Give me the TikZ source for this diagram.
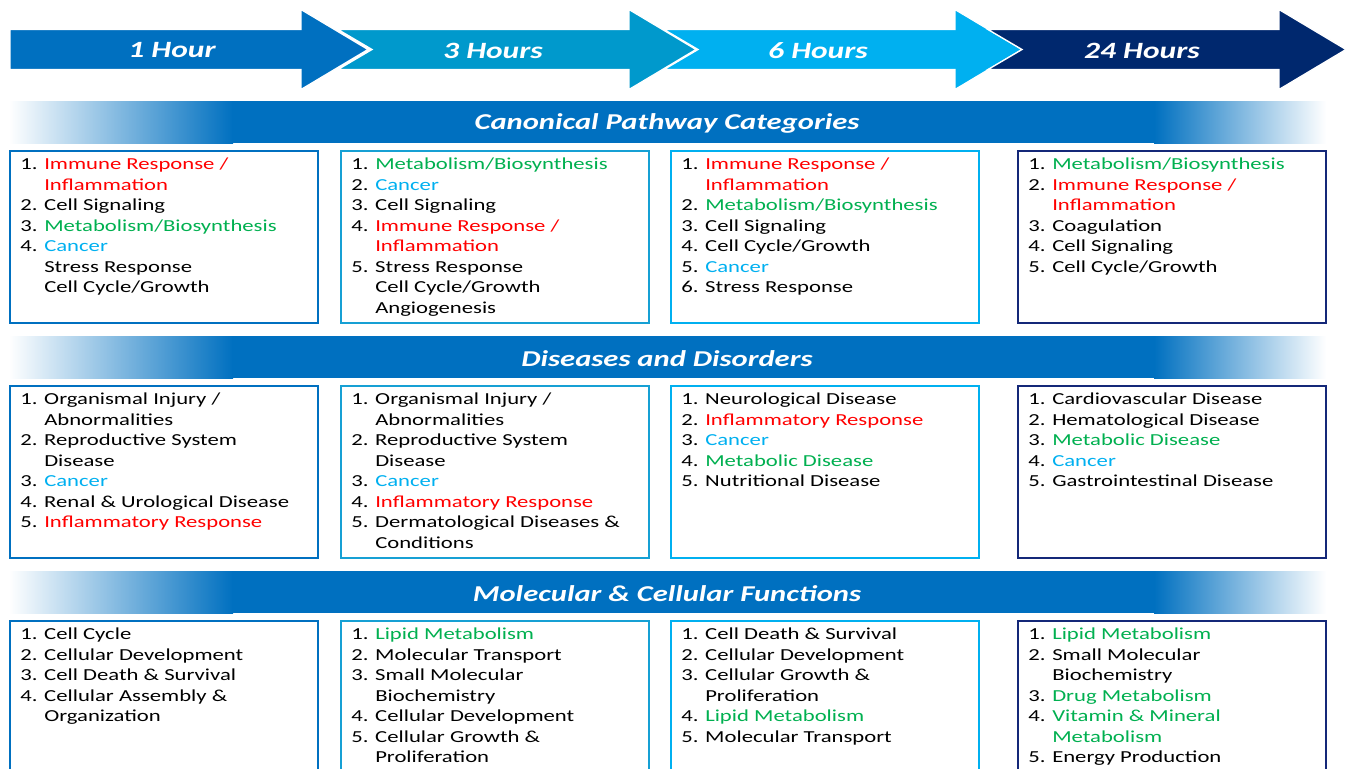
\documentclass[tikz,border=0pt]{standalone}
\usepackage{fontspec}
\setmainfont{Carlito}[FakeStretch=1.35]

\definecolor{hourone}{RGB}{0,112,192}
\definecolor{hourtwo}{RGB}{0,153,204}
\definecolor{hourthree}{RGB}{0,176,240}
\definecolor{hourfour}{RGB}{0,40,110}
\definecolor{bandblue}{RGB}{0,112,192}
\definecolor{boxtwo}{RGB}{22,160,212}
\definecolor{boxfour}{RGB}{20,40,120}
\definecolor{itemred}{RGB}{255,0,0}
\definecolor{itemgreen}{RGB}{0,176,80}
\definecolor{itemcyan}{RGB}{0,176,240}

\newcommand{\redtxt}[1]{\textcolor{itemred}{#1}}
\newcommand{\grntxt}[1]{\textcolor{itemgreen}{#1}}
\newcommand{\cyntxt}[1]{\textcolor{itemcyan}{#1}}
\newcommand{\itm}[2]{\strut\makebox[18pt][l]{#1.}#2}
\newcommand{\itmcont}[1]{\strut\hspace*{18pt}#1}

\begin{document}
\begin{tikzpicture}[x=0.75pt, y=-0.75pt,
  hourlabel/.style={text=white, font=\fontsize{17.5}{20}\selectfont\bfseries\itshape},
  bandtitle/.style={text=white, font=\fontsize{17}{20}\selectfont\bfseries\itshape},
  listbox/.style={draw, line width=1.5pt, anchor=north west, minimum width=231pt,
    minimum height=129pt, inner sep=0pt},
  listtxt/.style={anchor=north west, align=left, inner sep=0pt,
    font=\fontsize{12.6}{15.4}\selectfont}]
  \clip (0,0) rectangle (1350,768);
  \fill[white] (0,0) rectangle (1350,768);

  % time line
  \foreach \xa/\nt/\col in {10/0/hourone, 338/34/hourtwo, 664/34/hourthree, 988/34/hourfour}
    \filldraw[fill=\col, draw=white, line width=1pt] (\xa,29.5) -- ({\xa+291},29.5)
      -- ({\xa+291},9.5) -- ({\xa+358},49.5) -- ({\xa+291},89.5) -- ({\xa+291},69.5)
      -- (\xa,69.5) -- ({\xa+\nt},49.5) -- cycle;
  \node[hourlabel] (h1)  at (172,50.5)  {1 Hour};
  \node[hourlabel] (h3)  at (493,50.5)  {3 Hours};
  \node[hourlabel] (h6)  at (818,50.5)  {6 Hours};
  \node[hourlabel] (h24) at (1142,50.5) {24 Hours};

  % section bands
  \foreach \ya in {101,336,571} {
    \fill[left color=white, right color=bandblue] (9,\ya) rectangle (233,{\ya+42});
    \fill[bandblue] (232,\ya) rectangle (1155,{\ya+42});
    \fill[left color=bandblue, right color=white] (1154,\ya) rectangle (1326,{\ya+42});
  }
  \node[bandtitle] (cpt) at (667,123.5) {Canonical Pathway Categories};
  \node[bandtitle] (ddt) at (667,358.5) {Diseases and Disorders};
  \node[bandtitle] (mct) at (667,593.5) {Molecular \& Cellular Functions};

  % boxes
  \foreach \row/\ya in {cp/150, dd/385, mc/620} {
    \node[listbox, draw=hourone]   (\row1) at (9,\ya)    {};
    \node[listbox, draw=boxtwo]    (\row2) at (340,\ya)  {};
    \node[listbox, draw=hourthree] (\row3) at (670,\ya)  {};
    \node[listbox, draw=boxfour]   (\row4) at (1017,\ya) {};
  }

  % canonical pathways
  \node[listtxt] (cp1t) at ([shift={(11,5)}]cp1.north west)
    {\itm{1}{\redtxt{Immune Response /}}\\ \itmcont{\redtxt{Inflammation}}\\
     \itm{2}{Cell Signaling}\\ \itm{3}{\grntxt{Metabolism/Biosynthesis}}\\
     \itm{4}{\cyntxt{Cancer}}\\ \itmcont{Stress Response}\\ \itmcont{Cell Cycle/Growth}};
  \node[listtxt] (cp2t) at ([shift={(11,5)}]cp2.north west)
    {\itm{1}{\grntxt{Metabolism/Biosynthesis}}\\ \itm{2}{\cyntxt{Cancer}}\\
     \itm{3}{Cell Signaling}\\ \itm{4}{\redtxt{Immune Response /}}\\
     \itmcont{\redtxt{Inflammation}}\\ \itm{5}{Stress Response}\\
     \itmcont{Cell Cycle/Growth}\\ \itmcont{Angiogenesis}};
  \node[listtxt] (cp3t) at ([shift={(11,5)}]cp3.north west)
    {\itm{1}{\redtxt{Immune Response /}}\\ \itmcont{\redtxt{Inflammation}}\\
     \itm{2}{\grntxt{Metabolism/Biosynthesis}}\\ \itm{3}{Cell Signaling}\\
     \itm{4}{Cell Cycle/Growth}\\ \itm{5}{\cyntxt{Cancer}}\\ \itm{6}{Stress Response}};
  \node[listtxt] (cp4t) at ([shift={(11,5)}]cp4.north west)
    {\itm{1}{\grntxt{Metabolism/Biosynthesis}}\\ \itm{2}{\redtxt{Immune Response /}}\\
     \itmcont{\redtxt{Inflammation}}\\ \itm{3}{Coagulation}\\
     \itm{4}{Cell Signaling}\\ \itm{5}{Cell Cycle/Growth}};

  % diseases and disorders
  \node[listtxt] (dd1t) at ([shift={(11,5)}]dd1.north west)
    {\itm{1}{Organismal Injury /}\\ \itmcont{Abnormalities}\\
     \itm{2}{Reproductive System}\\ \itmcont{Disease}\\ \itm{3}{\cyntxt{Cancer}}\\
     \itm{4}{Renal \& Urological Disease}\\ \itm{5}{\redtxt{Inflammatory Response}}};
  \node[listtxt] (dd2t) at ([shift={(11,5)}]dd2.north west)
    {\itm{1}{Organismal Injury /}\\ \itmcont{Abnormalities}\\
     \itm{2}{Reproductive System}\\ \itmcont{Disease}\\ \itm{3}{\cyntxt{Cancer}}\\
     \itm{4}{\redtxt{Inflammatory Response}}\\ \itm{5}{Dermatological Diseases \&}\\
     \itmcont{Conditions}};
  \node[listtxt] (dd3t) at ([shift={(11,5)}]dd3.north west)
    {\itm{1}{Neurological Disease}\\ \itm{2}{\redtxt{Inflammatory Response}}\\
     \itm{3}{\cyntxt{Cancer}}\\ \itm{4}{\grntxt{Metabolic Disease}}\\
     \itm{5}{Nutritional Disease}};
  \node[listtxt] (dd4t) at ([shift={(11,5)}]dd4.north west)
    {\itm{1}{Cardiovascular Disease}\\ \itm{2}{Hematological Disease}\\
     \itm{3}{\grntxt{Metabolic Disease}}\\ \itm{4}{\cyntxt{Cancer}}\\
     \itm{5}{Gastrointestinal Disease}};

  % molecular and cellular functions
  \node[listtxt] (mc1t) at ([shift={(11,5)}]mc1.north west)
    {\itm{1}{Cell Cycle}\\ \itm{2}{Cellular Development}\\
     \itm{3}{Cell Death \& Survival}\\ \itm{4}{Cellular Assembly \&}\\
     \itmcont{Organization}};
  \node[listtxt] (mc2t) at ([shift={(11,5)}]mc2.north west)
    {\itm{1}{\grntxt{Lipid Metabolism}}\\ \itm{2}{Molecular Transport}\\
     \itm{3}{Small Molecular}\\ \itmcont{Biochemistry}\\
     \itm{4}{Cellular Development}\\ \itm{5}{Cellular Growth \&}\\
     \itmcont{Proliferation}};
  \node[listtxt] (mc3t) at ([shift={(11,5)}]mc3.north west)
    {\itm{1}{Cell Death \& Survival}\\ \itm{2}{Cellular Development}\\
     \itm{3}{Cellular Growth \&}\\ \itmcont{Proliferation}\\
     \itm{4}{\grntxt{Lipid Metabolism}}\\ \itm{5}{Molecular Transport}};
  \node[listtxt] (mc4t) at ([shift={(11,5)}]mc4.north west)
    {\itm{1}{\grntxt{Lipid Metabolism}}\\ \itm{2}{Small Molecular}\\
     \itmcont{Biochemistry}\\ \itm{3}{\grntxt{Drug Metabolism}}\\
     \itm{4}{\grntxt{Vitamin \& Mineral}}\\ \itmcont{\grntxt{Metabolism}}\\
     \itm{5}{Energy Production}};
\end{tikzpicture}
\end{document}
